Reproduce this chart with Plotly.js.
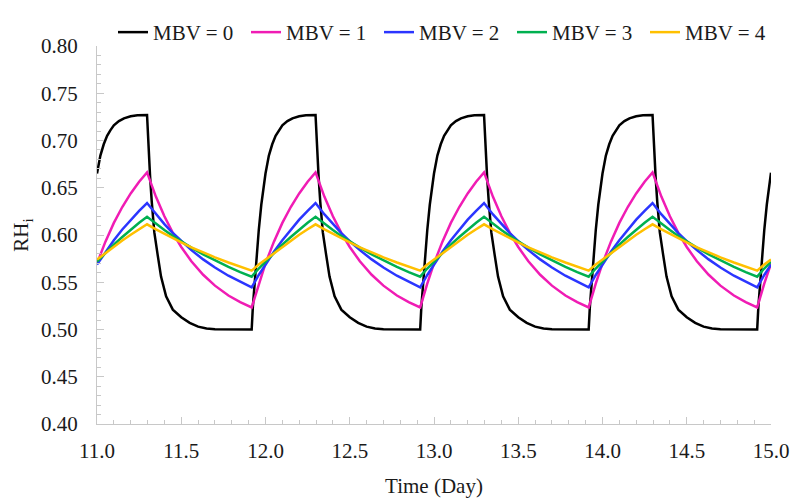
<!DOCTYPE html>
<html>
<head>
<meta charset="utf-8">
<script src="https://cdn.plot.ly/plotly-3.0.1.min.js"></script>
<style>html,body{margin:0;padding:0;background:#fff;}#chart{width:792px;height:503px;}</style>
</head>
<body>
<div id="chart"></div>
<script>
// Series names
var seriesNames = ["MBV = 0", "MBV = 1", "MBV = 2", "MBV = 3", "MBV = 4"];

// Time (day) for the MBV = 0 curve
var timeMBV0 = [
  11.000,11.020,11.040,11.060,11.080,11.100,11.130,11.160,11.200,11.240,11.297,11.305,11.315,11.325,11.340,11.360,11.380,11.410,11.450,11.500,11.550,11.600,11.650,11.700,11.800,11.918,11.925,11.935,11.945,11.960,11.975,
  12.000,12.020,12.040,12.060,12.080,12.100,12.130,12.160,12.200,12.240,12.297,12.305,12.315,12.325,12.340,12.360,12.380,12.410,12.450,12.500,12.550,12.600,12.650,12.700,12.800,12.918,12.925,12.935,12.945,12.960,12.975,
  13.000,13.020,13.040,13.060,13.080,13.100,13.130,13.160,13.200,13.240,13.297,13.305,13.315,13.325,13.340,13.360,13.380,13.410,13.450,13.500,13.550,13.600,13.650,13.700,13.800,13.918,13.925,13.935,13.945,13.960,13.975,
  14.000,14.020,14.040,14.060,14.080,14.100,14.130,14.160,14.200,14.240,14.297,14.305,14.315,14.325,14.340,14.360,14.380,14.410,14.450,14.500,14.550,14.600,14.650,14.700,14.800,14.918,14.925,14.935,14.945,14.960,14.975,
  15.000
];
var rhMBV0 = [
  0.665,0.684,0.696,0.705,0.711,0.716,0.7205,0.7235,0.7256,0.7268,0.727,0.695,0.662,0.635,0.603,0.579,0.556,0.535,0.521,0.513,0.507,0.503,0.501,0.5003,0.500,0.500,0.524,0.550,0.573,0.605,0.632,
  0.665,0.684,0.696,0.705,0.711,0.716,0.7205,0.7235,0.7256,0.7268,0.727,0.695,0.662,0.635,0.603,0.579,0.556,0.535,0.521,0.513,0.507,0.503,0.501,0.5003,0.500,0.500,0.524,0.550,0.573,0.605,0.632,
  0.665,0.684,0.696,0.705,0.711,0.716,0.7205,0.7235,0.7256,0.7268,0.727,0.695,0.662,0.635,0.603,0.579,0.556,0.535,0.521,0.513,0.507,0.503,0.501,0.5003,0.500,0.500,0.524,0.550,0.573,0.605,0.632,
  0.665,0.684,0.696,0.705,0.711,0.716,0.7205,0.7235,0.7256,0.7268,0.727,0.695,0.662,0.635,0.603,0.579,0.556,0.535,0.521,0.513,0.507,0.503,0.501,0.5003,0.500,0.500,0.524,0.550,0.573,0.605,0.632,
  0.666
];

// Time (day) for the MBV = 1..4 curves
var timeMBV = [
  11.000,11.050,11.100,11.150,11.200,11.250,11.297,11.350,11.400,11.450,11.500,11.560,11.630,11.700,11.780,11.850,11.918,11.960,
  12.000,12.050,12.100,12.150,12.200,12.250,12.297,12.350,12.400,12.450,12.500,12.560,12.630,12.700,12.780,12.850,12.918,12.960,
  13.000,13.050,13.100,13.150,13.200,13.250,13.297,13.350,13.400,13.450,13.500,13.560,13.630,13.700,13.780,13.850,13.918,13.960,
  14.000,14.050,14.100,14.150,14.200,14.250,14.297,14.350,14.400,14.450,14.500,14.560,14.630,14.700,14.780,14.850,14.918,14.960,
  15.000
];
var rhMBV1 = [
  0.5699,0.5930,0.6128,0.6296,0.6440,0.6563,0.6662,0.6404,0.6198,0.6023,0.5873,0.5722,0.5579,0.5464,0.5360,0.5289,0.5233,0.5485,
  0.5699,0.5930,0.6128,0.6296,0.6440,0.6563,0.6662,0.6404,0.6198,0.6023,0.5873,0.5722,0.5579,0.5464,0.5360,0.5289,0.5233,0.5485,
  0.5699,0.5930,0.6128,0.6296,0.6440,0.6563,0.6662,0.6404,0.6198,0.6023,0.5873,0.5722,0.5579,0.5464,0.5360,0.5289,0.5233,0.5485,
  0.5699,0.5930,0.6128,0.6296,0.6440,0.6563,0.6662,0.6404,0.6198,0.6023,0.5873,0.5722,0.5579,0.5464,0.5360,0.5289,0.5233,0.5485,
  0.5699
];
var rhMBV2 = [
  0.5687,0.5822,0.5945,0.6058,0.6162,0.6256,0.6338,0.6218,0.6115,0.6021,0.5934,0.5840,0.5742,0.5656,0.5569,0.5503,0.5446,0.5577,
  0.5687,0.5822,0.5945,0.6058,0.6162,0.6256,0.6338,0.6218,0.6115,0.6021,0.5934,0.5840,0.5742,0.5656,0.5569,0.5503,0.5446,0.5577,
  0.5687,0.5822,0.5945,0.6058,0.6162,0.6256,0.6338,0.6218,0.6115,0.6021,0.5934,0.5840,0.5742,0.5656,0.5569,0.5503,0.5446,0.5577,
  0.5687,0.5822,0.5945,0.6058,0.6162,0.6256,0.6338,0.6218,0.6115,0.6021,0.5934,0.5840,0.5742,0.5656,0.5569,0.5503,0.5446,0.5577,
  0.5687
];
var rhMBV3 = [
  0.5718,0.5811,0.5898,0.5979,0.6056,0.6129,0.6193,0.6118,0.6052,0.5990,0.5931,0.5866,0.5795,0.5730,0.5662,0.5608,0.5559,0.5645,
  0.5718,0.5811,0.5898,0.5979,0.6056,0.6129,0.6193,0.6118,0.6052,0.5990,0.5931,0.5866,0.5795,0.5730,0.5662,0.5608,0.5559,0.5645,
  0.5718,0.5811,0.5898,0.5979,0.6056,0.6129,0.6193,0.6118,0.6052,0.5990,0.5931,0.5866,0.5795,0.5730,0.5662,0.5608,0.5559,0.5645,
  0.5718,0.5811,0.5898,0.5979,0.6056,0.6129,0.6193,0.6118,0.6052,0.5990,0.5931,0.5866,0.5795,0.5730,0.5662,0.5608,0.5559,0.5645,
  0.5718
];
var rhMBV4 = [
  0.5740,0.5810,0.5877,0.5941,0.6002,0.6061,0.6113,0.6059,0.6011,0.5965,0.5921,0.5870,0.5815,0.5764,0.5709,0.5664,0.5623,0.5687,
  0.5740,0.5810,0.5877,0.5941,0.6002,0.6061,0.6113,0.6059,0.6011,0.5965,0.5921,0.5870,0.5815,0.5764,0.5709,0.5664,0.5623,0.5687,
  0.5740,0.5810,0.5877,0.5941,0.6002,0.6061,0.6113,0.6059,0.6011,0.5965,0.5921,0.5870,0.5815,0.5764,0.5709,0.5664,0.5623,0.5687,
  0.5740,0.5810,0.5877,0.5941,0.6002,0.6061,0.6113,0.6059,0.6011,0.5965,0.5921,0.5870,0.5815,0.5764,0.5709,0.5664,0.5623,0.5687,
  0.5740
];

var colors = ["#000000", "#F01CB4", "#2B35FF", "#00B050", "#FFC000"];
var xs = [timeMBV0, timeMBV, timeMBV, timeMBV, timeMBV];
var ys = [rhMBV0, rhMBV1, rhMBV2, rhMBV3, rhMBV4];

var traces = seriesNames.map(function (name, i) {
  return {
    type: "scatter",
    mode: "lines",
    name: name,
    x: xs[i],
    y: ys[i],
    line: { color: colors[i], width: 2.5 }
  };
});

var fontFamily = "Liberation Serif, Times New Roman, serif";
var axisGray = "#c8c8c8";
var textColor = "#1a1a1a";

var layout = {
  width: 792,
  height: 503,
  margin: { l: 97, r: 21, t: 43, b: 79 },
  paper_bgcolor: "#ffffff",
  plot_bgcolor: "#ffffff",
  font: { family: fontFamily, size: 21, color: textColor },
  showlegend: true,
  legend: {
    orientation: "h",
    x: 0.0237,
    xanchor: "left",
    y: 1.09,
    yanchor: "top",
    font: { family: fontFamily, size: 21, color: textColor },
    entrywidth: 88,
    entrywidthmode: "pixels",
    bgcolor: "rgba(0,0,0,0)",
    borderwidth: 0
  },
  xaxis: {
    range: [11, 15],
    dtick: 0.5,
    tick0: 11,
    tickformat: ".1f",
    showgrid: false,
    zeroline: false,
    showline: true,
    linecolor: axisGray,
    linewidth: 1,
    ticks: "inside",
    ticklen: 7,
    tickcolor: axisGray,
    ticklabelstandoff: 8,
    minor: { dtick: 0.1, ticks: "inside", ticklen: 4, tickcolor: axisGray, showgrid: false },
    tickfont: { family: fontFamily, size: 21, color: textColor },
    title: { text: "Time (Day)", font: { family: fontFamily, size: 21, color: textColor }, standoff: 16 },
    automargin: false,
    fixedrange: true
  },
  yaxis: {
    range: [0.4, 0.8],
    dtick: 0.05,
    tick0: 0.4,
    tickformat: ".2f",
    showgrid: false,
    zeroline: false,
    showline: true,
    linecolor: axisGray,
    linewidth: 1,
    ticks: "inside",
    ticklen: 7,
    tickcolor: axisGray,
    ticklabelstandoff: 14,
    minor: { dtick: 0.01, ticks: "inside", ticklen: 4, tickcolor: axisGray, showgrid: false },
    tickfont: { family: fontFamily, size: 21, color: textColor },
    title: { text: "RH<sub>i</sub>", font: { family: fontFamily, size: 21, color: textColor }, standoff: 6 },
    automargin: false,
    fixedrange: true
  }
};

Plotly.newPlot("chart", traces, layout, { displayModeBar: false, staticPlot: true });
</script>
</body>
</html>
